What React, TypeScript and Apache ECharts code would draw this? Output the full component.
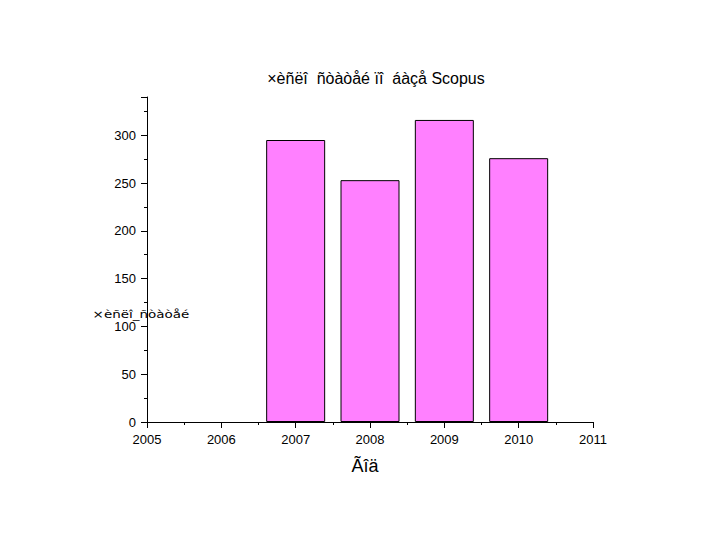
import React, { useEffect, useRef } from "react";
import * as echarts from "echarts";

const titleText = "×èñëî  ñòàòåé ïî  áàçå Scopus";
const xAxisName = "Ãîä";
const yAxisName = "×èñëî_ñòàòåé";
const years = [2007, 2008, 2009, 2010];
const counts = [295, 253, 316, 276];

export default function App() {
  const ref = useRef<HTMLDivElement>(null);
  useEffect(() => {
    if (!ref.current) return;
    const chart = echarts.init(ref.current, undefined, { renderer: "svg" });
    const font = "Liberation Sans, Arial, sans-serif";
    chart.setOption({
      animation: false,
      backgroundColor: "#ffffff",
      grid: { left: 147, right: 127, top: 97, bottom: 118 },
      xAxis: {
        type: "value",
        min: 2005,
        max: 2011,
        interval: 1,
        axisLine: { show: true, lineStyle: { color: "#000", width: 1 } },
        axisTick: { show: true, inside: false, length: 6, lineStyle: { color: "#000" } },
        minorTick: { show: true, splitNumber: 2, length: 3, lineStyle: { color: "#000" } },
        splitLine: { show: false },
        axisLabel: { color: "#000", fontSize: 13, fontFamily: font, margin: 11, formatter: (v: number) => String(v) },
      },
      yAxis: {
        type: "value",
        min: 0,
        max: 340,
        interval: 50,
        axisLine: { show: true, lineStyle: { color: "#000", width: 1 } },
        axisTick: { show: true, inside: false, length: 6, lineStyle: { color: "#000" } },
        minorTick: { show: true, splitNumber: 2, length: 3, lineStyle: { color: "#000" } },
        splitLine: { show: false },
        axisLabel: { color: "#000", fontSize: 13, fontFamily: font, margin: 11, showMaxLabel: false },
      },
      series: [
        {
          type: "bar",
          data: years.map((y, i) => [y, counts[i]]),
          barWidth: 59,
          itemStyle: { color: "#ff80ff", borderColor: "#000", borderWidth: 1 },
        },
      ],
      graphic: [
        {
          type: "text",
          x: 376,
          y: 78,
          style: {
            text: titleText,
            fill: "#000",
            fontSize: 16,
            fontFamily: font,
            align: "center",
            verticalAlign: "middle",
          },
        },
        {
          type: "text",
          x: 365,
          y: 466,
          style: {
            text: xAxisName,
            fill: "#000",
            fontSize: 18,
            fontFamily: font,
            align: "center",
            verticalAlign: "middle",
          },
        },
        {
          type: "text",
          x: 141,
          y: 314,
          scaleX: 1.5,
          style: {
            text: yAxisName,
            fill: "#000",
            fontSize: 10,
            fontFamily: "DejaVu Sans Condensed, sans-serif",
            align: "center",
            verticalAlign: "middle",
          },
        },
      ],
    });
    return () => chart.dispose();
  }, []);
  return (
    <div
      ref={ref}
      style={{ position: "fixed", left: 0, top: 0, width: 720, height: 540 }}
    />
  );
}
